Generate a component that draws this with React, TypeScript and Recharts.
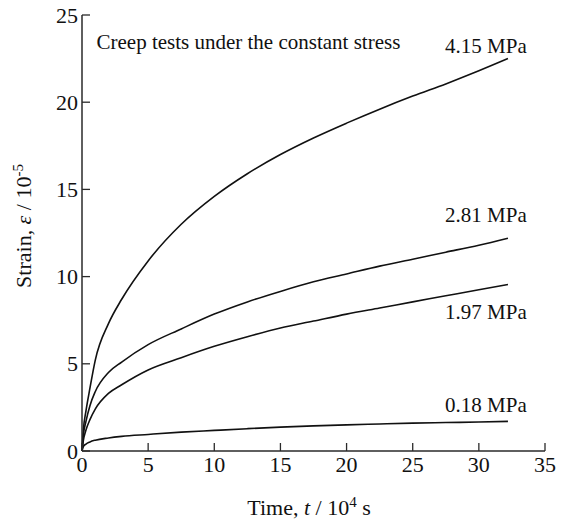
import { LineChart, Line, XAxis, YAxis, LabelList, Customized } from 'recharts';

// time, 10^4 s
const time = [0, 0.1, 0.3, 0.6, 1, 2, 3, 5, 7.5, 10, 12.5, 15, 17.5, 20, 22.5, 25, 27.5, 30, 32.2];
// strain, 10^-5
const strain415 = [0, 1.2, 2.3, 3.6, 5.2, 7.3, 8.7, 10.9, 13.0, 14.6, 15.9, 17.0, 17.95, 18.8, 19.6, 20.35, 21.05, 21.8, 22.5];
const strain281 = [0, 0.9, 1.7, 2.6, 3.4, 4.5, 5.1, 6.1, 7.0, 7.85, 8.55, 9.15, 9.7, 10.15, 10.6, 11.0, 11.4, 11.8, 12.2];
const strain197 = [0, 0.6, 1.2, 1.8, 2.4, 3.3, 3.8, 4.65, 5.35, 6.0, 6.55, 7.05, 7.45, 7.85, 8.2, 8.55, 8.9, 9.25, 9.55];
const strain018 = [0, 0.25, 0.4, 0.52, 0.62, 0.75, 0.84, 0.95, 1.08, 1.18, 1.28, 1.37, 1.44, 1.5, 1.55, 1.6, 1.63, 1.66, 1.7];

const xTicks = [0, 5, 10, 15, 20, 25, 30, 35];
const yTicks = [0, 5, 10, 15, 20, 25];

const series = [
  { key: 's415', name: '4.15 MPa', values: strain415, dy: -6 },
  { key: 's281', name: '2.81 MPa', values: strain281, dy: -16 },
  { key: 's197', name: '1.97 MPa', values: strain197, dy: 35 },
  { key: 's018', name: '0.18 MPa', values: strain018, dy: -9 }
];

const data = time.map((t, i) => {
  const row: Record<string, number> = { t };
  series.forEach((s) => {
    row[s.key] = s.values[i];
  });
  return row;
});

const FONT = '"Liberation Serif", "Times New Roman", serif';
const INK = '#2a2a2a';

const BottomTick = ({ x, y, payload }: any) => (
  <g>
    <line x1={x} y1={y} x2={x} y2={y - 8} stroke={INK} strokeWidth={1.3} />
    <text x={x} y={y + 21} textAnchor="middle" fontFamily={FONT} fontSize={22} fill="#111">
      {payload.value}
    </text>
  </g>
);

const TopTick = ({ x, y }: any) => <line x1={x} y1={y} x2={x} y2={y + 8} stroke={INK} strokeWidth={1.3} />;

const LeftTick = ({ x, y, payload }: any) => (
  <g>
    <line x1={x} y1={y} x2={x + 8} y2={y} stroke={INK} strokeWidth={1.3} />
    <text x={x - 4} y={y + 7.5} textAnchor="end" fontFamily={FONT} fontSize={22} fill="#111">
      {payload.value}
    </text>
  </g>
);

const RightTick = ({ x, y }: any) => <line x1={x} y1={y} x2={x - 8} y2={y} stroke={INK} strokeWidth={1.3} />;

const endLabel = (name: string, dy: number) => (props: any) => {
  const { x, y, index } = props;
  if (index !== time.length - 1) return null;
  return (
    <text x={x - 22} y={y + dy} textAnchor="middle" fontFamily={FONT} fontSize={21} fill="#111">
      {name}
    </text>
  );
};

const Titles = () => (
  <g fontFamily={FONT} fill="#111">
    <text x={96.5} y={49} fontSize={21}>
      Creep tests under the constant stress
    </text>
    <text x={309} y={515} textAnchor="middle" fontSize={22}>
      Time, <tspan fontStyle="italic">t</tspan> / 10
      <tspan fontSize={15} dy={-8}>4</tspan>
      <tspan dy={8}> s</tspan>
    </text>
    <text transform="translate(31, 226) rotate(-90)" textAnchor="middle" fontSize={22}>
      Strain, <tspan fontStyle="italic">ε</tspan> / 10
      <tspan fontSize={15} dy={-8}>-5</tspan>
    </text>
  </g>
);

const App = () => {
  return (
    <div style={{ position: 'absolute', left: 0, top: 0, background: '#fff' }}>
      <LineChart width={564} height={522} data={data} margin={{ top: 15, right: 19, left: 0, bottom: 0 }}>
        <XAxis
          xAxisId="bottom"
          dataKey="t"
          type="number"
          domain={[0, 35]}
          ticks={xTicks}
          height={71}
          tickSize={0}
          tickMargin={0}
          tick={<BottomTick />}
          axisLine={{ stroke: INK, strokeWidth: 1.5 }}
        />
        <XAxis
          xAxisId="top"
          orientation="top"
          dataKey="t"
          type="number"
          domain={[0, 35]}
          ticks={xTicks}
          height={0}
          tickSize={0}
          tickMargin={0}
          tick={<TopTick />}
          axisLine={{ stroke: INK, strokeWidth: 1.5 }}
        />
        <YAxis
          yAxisId="left"
          type="number"
          domain={[0, 25]}
          ticks={yTicks}
          width={82}
          tickSize={0}
          tickMargin={0}
          tick={<LeftTick />}
          axisLine={{ stroke: INK, strokeWidth: 1.5 }}
        />
        <YAxis
          yAxisId="right"
          orientation="right"
          type="number"
          domain={[0, 25]}
          ticks={yTicks}
          width={0}
          tickSize={0}
          tickMargin={0}
          tick={<RightTick />}
          axisLine={{ stroke: INK, strokeWidth: 2 }}
        />
        {series.map((s) => (
          <Line
            key={s.key}
            xAxisId="bottom"
            yAxisId="left"
            type="monotone"
            dataKey={s.key}
            name={s.name}
            stroke="#111"
            strokeWidth={1.6}
            dot={false}
            isAnimationActive={false}
          >
            <LabelList dataKey={s.key} content={endLabel(s.name, s.dy)} />
          </Line>
        ))}
        <Customized component={<Titles />} />
      </LineChart>
    </div>
  );
};

export default App;
